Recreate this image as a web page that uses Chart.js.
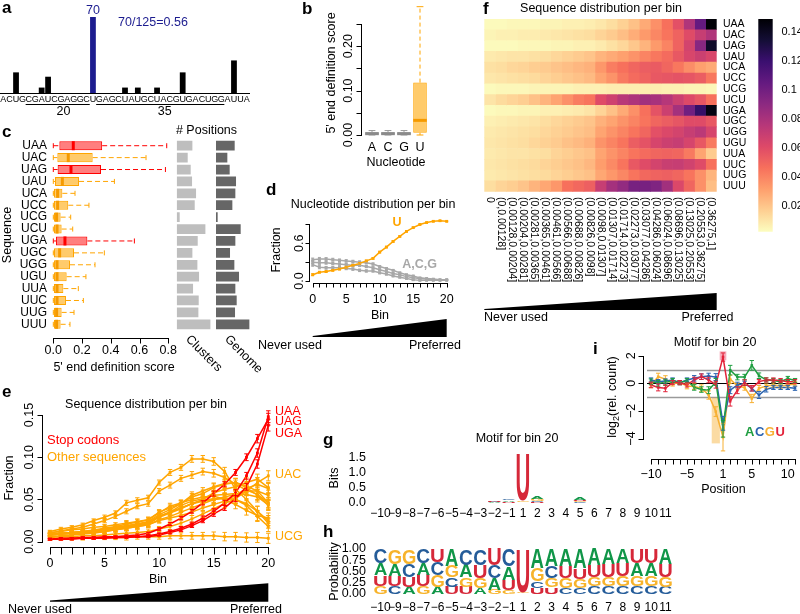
<!DOCTYPE html>
<html><head><meta charset="utf-8">
<script src="https://cdn.jsdelivr.net/npm/chart.js@4.4.1/dist/chart.umd.min.js"></script>
<style>
html,body{margin:0;padding:0;background:#fff;}
#wrap{position:relative;width:800px;height:614px;overflow:hidden;background:#fff;}
#wrap canvas{position:absolute;left:0;top:0;}
</style></head><body><div id="wrap"></div>
<script>
// ================= DATA =================
// panel a
const aSequence = ['A','C','U','G','C','G','A','U','C','G','A','G','G','C','U','G','A','G','C','U','A','U','G','C','U','A','C','G','U','G','A','C','U','G','G','A','U','U','A'];
const aCounts = [0,0,19,0,0,0,5,15,0,0,0,0,0,0,70,0,0,0,0,5,0,5,0,0,5,0,0,0,19,0,0,0,0,0,0,0,30,0,0];
const aHighlightIndex = 14;
const aUnderlineStart = [4, 15];
const aUnderlineEnd = [13, 34];
const aUnderlineLabels = ['20', '35'];
const aUnderlineLabelIndex = [9.4, 25.2];
const aAnnotation = '70/125=0.56';
// panel b
const bNucleotides = ['A','C','G','U'];
const bLo  = [0.000, 0.000, 0.000, 0.000];
const bQ1  = [0.0005, 0.0005, 0.0005, 0.005];
const bMed = [0.003, 0.003, 0.003, 0.033];
const bQ3  = [0.006, 0.006, 0.006, 0.118];
const bHi  = [0.010, 0.010, 0.010, 0.289];
const bYTicks = [0, 0.05, 0.10, 0.15, 0.20, 0.25];
const bYLabels = ['0.00', '', '0.10', '', '0.20', ''];
// panel c
const seqs = ['UAA','UAC','UAG','UAU','UCA','UCC','UCG','UCU','UGA','UGC','UGG','UGU','UUA','UUC','UUG','UUU'];
const stopCodons = ['UAA','UAG','UGA'];
const cLo  = [0,0,0,0,0,0,0,0,0,0,0,0,0,0,0,0];
const cQ1  = [0.042,0.028,0.030,0.012,0.005,0.005,0.005,0.005,0.019,0.005,0.005,0.005,0.005,0.005,0.005,0.005];
const cMed = [0.139,0.104,0.123,0.063,0.030,0.030,0.023,0.026,0.081,0.044,0.026,0.026,0.026,0.026,0.023,0.023];
const cQ3  = [0.340,0.274,0.332,0.179,0.063,0.104,0.051,0.058,0.237,0.144,0.116,0.093,0.070,0.088,0.058,0.051];
const cHi  = [0.789,0.645,0.780,0.425,0.151,0.248,0.121,0.135,0.564,0.355,0.290,0.227,0.174,0.209,0.144,0.116];
const cXTicks = [0, 0.2, 0.4, 0.6, 0.8];
const cXLabels = ['0.0','0.2','0.4','0.6','0.8'];
const cClusters = [47,33,42,46,58,54,9,86,63,47,62,67,49,66,65,101];
const cGenome   = [56,34,41,60,58,49,5,74,58,42,55,69,58,62,57,100];
// panel d
const dBins = [0,1,2,3,4,5,6,7,8,9,10,11,12,13,14,15,16,17,18,19,20];
const dFracU = [0.10,0.14,0.15,0.17,0.19,0.22,0.25,0.28,0.32,0.36,0.46,0.54,0.63,0.71,0.79,0.85,0.90,0.93,0.95,0.96,0.95];
const dFracA = [0.34,0.35,0.35,0.34,0.33,0.32,0.31,0.30,0.29,0.27,0.23,0.20,0.17,0.13,0.10,0.08,0.05,0.04,0.03,0.02,0.02];
const dFracC = [0.30,0.29,0.29,0.28,0.27,0.26,0.25,0.25,0.23,0.21,0.18,0.15,0.12,0.10,0.07,0.05,0.04,0.03,0.02,0.02,0.02];
const dFracG = [0.26,0.22,0.21,0.21,0.21,0.20,0.19,0.17,0.16,0.16,0.13,0.11,0.08,0.06,0.04,0.02,0.01,0.01,0.01,0.01,0.01];
const dErrU   = [0.015,0.012,0.012,0.012,0.012,0.012,0.012,0.012,0.012,0.012,0.012,0.012,0.012,0.010,0.010,0.010,0.008,0.008,0.006,0.006,0.006];
const dErrACG = [0.025,0.025,0.022,0.022,0.020,0.020,0.020,0.020,0.018,0.018,0.015,0.015,0.012,0.012,0.010,0.010,0.008,0.006,0.005,0.005,0.005];
const dYTicks = [0, 0.3, 0.6, 0.9];
const dYLabels = ['0.0', '', '0.6', ''];
const binLabels = ['0','','','','','5','','','','','10','','','','','15','','','','','20'];
// panel e / f : fraction of each sequence per bin
const fracUAA = [0.003,0.003,0.004,0.004,0.004,0.005,0.005,0.006,0.006,0.007,0.009,0.012,0.016,0.021,0.028,0.036,0.046,0.058,0.078,0.105,0.148];
const fracUAC = [0.005,0.006,0.006,0.007,0.007,0.008,0.009,0.010,0.011,0.012,0.015,0.018,0.022,0.027,0.033,0.039,0.045,0.051,0.060,0.070,0.078];
const fracUAG = [0.003,0.003,0.003,0.004,0.004,0.004,0.005,0.005,0.006,0.006,0.008,0.011,0.014,0.019,0.025,0.033,0.040,0.051,0.065,0.092,0.138];
const fracUAU = [0.008,0.009,0.010,0.010,0.011,0.012,0.014,0.016,0.018,0.020,0.025,0.028,0.031,0.035,0.040,0.044,0.048,0.055,0.063,0.068,0.063];
const fracUCA = [0.011,0.012,0.014,0.015,0.017,0.018,0.020,0.022,0.024,0.026,0.034,0.042,0.046,0.050,0.053,0.054,0.050,0.044,0.037,0.031,0.028];
const fracUCC = [0.009,0.010,0.011,0.012,0.013,0.015,0.017,0.019,0.021,0.023,0.030,0.035,0.043,0.048,0.051,0.055,0.056,0.057,0.056,0.053,0.044];
const fracUCG = [0.003,0.004,0.004,0.004,0.005,0.005,0.005,0.005,0.006,0.006,0.006,0.007,0.007,0.007,0.007,0.007,0.006,0.006,0.005,0.005,0.004];
const fracUCU = [0.010,0.013,0.015,0.017,0.021,0.025,0.030,0.036,0.042,0.045,0.060,0.067,0.075,0.079,0.083,0.081,0.076,0.068,0.061,0.056,0.046];
const fracUGA = [0.003,0.004,0.004,0.005,0.005,0.006,0.006,0.007,0.008,0.010,0.015,0.021,0.028,0.036,0.046,0.057,0.068,0.082,0.100,0.122,0.145];
const fracUGC = [0.006,0.007,0.008,0.009,0.010,0.012,0.014,0.016,0.018,0.020,0.026,0.030,0.035,0.040,0.045,0.050,0.053,0.056,0.060,0.060,0.055];
const fracUGG = [0.008,0.009,0.010,0.011,0.012,0.014,0.016,0.018,0.020,0.022,0.030,0.035,0.040,0.045,0.050,0.058,0.062,0.065,0.070,0.074,0.064];
const fracUGU = [0.009,0.010,0.011,0.012,0.014,0.016,0.018,0.021,0.023,0.026,0.035,0.040,0.045,0.053,0.057,0.064,0.068,0.070,0.064,0.055,0.043];
const fracUUA = [0.008,0.009,0.010,0.010,0.011,0.012,0.015,0.017,0.019,0.021,0.030,0.035,0.040,0.045,0.048,0.050,0.051,0.050,0.043,0.030,0.018];
const fracUUC = [0.009,0.010,0.011,0.012,0.013,0.015,0.017,0.019,0.021,0.024,0.032,0.038,0.045,0.055,0.060,0.065,0.069,0.070,0.066,0.060,0.046];
const fracUUG = [0.008,0.009,0.010,0.011,0.012,0.013,0.015,0.017,0.019,0.021,0.029,0.034,0.039,0.045,0.049,0.051,0.052,0.050,0.045,0.036,0.025];
const fracUUU = [0.012,0.015,0.017,0.020,0.025,0.029,0.034,0.046,0.049,0.052,0.070,0.082,0.088,0.098,0.098,0.095,0.083,0.062,0.050,0.036,0.022];
const errStop  = [0.001,0.001,0.001,0.001,0.001,0.001,0.001,0.001,0.001,0.0012,0.0015,0.0018,0.002,0.0022,0.0025,0.003,0.003,0.0035,0.004,0.005,0.007];
const errOther = [0.0015,0.002,0.002,0.002,0.002,0.0025,0.0025,0.003,0.003,0.003,0.003,0.0035,0.0035,0.004,0.004,0.0045,0.005,0.005,0.0055,0.006,0.006];
const eYTicks = [0, 0.05, 0.10, 0.15];
const eYLabels = ['0.00','0.05','0.10','0.15'];
const fBinLabels = ['0','(0,0.00128]','(0.00128,0.00204]','(0.00204,0.00281]','(0.00281,0.00365]','(0.00365,0.00461]','(0.00461,0.00566]','(0.00566,0.00688]','(0.00688,0.00826]','(0.00826,0.0098]','(0.0098,0.01307]','(0.01307,0.01714]','(0.01714,0.02273]','(0.02273,0.03077]','(0.03077,0.04286]','(0.04286,0.06024]','(0.06024,0.08696]','(0.08696,0.13025]','(0.13025,0.20553]','(0.20553,0.36275]','(0.36275,1]'];
const colorMin = 0.002, colorMax = 0.149;
const colorTicks = [0.02,0.04,0.06,0.08,0.10,0.12,0.14];
const colorTickLabels = ['0.02','0.04','0.06','0.08','0.1','0.12','0.14'];
// panels g / h : motif for bin 20
const logoPositions = ['\u221210','\u22129','\u22128','\u22127','\u22126','\u22125','\u22124','\u22123','\u22122','\u22121','1','2','3','4','5','6','7','8','9','10','11'];
const probA = [0.26,0.26,0.16,0.26,0.16,0.38,0.28,0.14,0.25,0.30,0.01,0.42,0.38,0.38,0.42,0.36,0.33,0.32,0.30,0.30,0.33];
const probC = [0.32,0.17,0.29,0.32,0.28,0.21,0.35,0.36,0.29,0.38,0.01,0.15,0.26,0.14,0.14,0.17,0.17,0.17,0.17,0.17,0.16];
const probG = [0.18,0.33,0.33,0.17,0.26,0.25,0.21,0.22,0.10,0.08,0.02,0.30,0.21,0.22,0.20,0.20,0.21,0.22,0.22,0.22,0.22];
const probU = [0.24,0.24,0.22,0.25,0.30,0.16,0.16,0.28,0.36,0.24,0.96,0.13,0.15,0.26,0.24,0.27,0.29,0.29,0.31,0.31,0.29];
const logoBits = [0.02,0.02,0.02,0.005,0.005,0.005,0.005,0.04,0.07,0.15,1.62,0.22,0.03,0.03,0.20,0.03,0.01,0.005,0.005,0.01,0.005];
const gYTicks = [0, 0.5, 1.0, 1.5];
const gYLabels = ['0.0','0.5','1.0','1.5'];
const hYTicks = [0, 0.25, 0.5, 0.75, 1.0];
const hYLabels = ['0.00','0.25','0.50','0.75','1.00'];
// panel i
const iLogA = [0.12,0.00,0.05,0.20,0.05,0.20,-0.30,-0.45,-0.50,0.10,-3.30,0.95,0.45,0.45,1.30,0.55,0.25,0.20,0.12,0.35,0.20];
const iLogC = [0.24,0.12,0.17,0.24,0.05,0.24,0.36,0.48,0.53,0.45,-2.90,-0.50,-0.12,0.00,-0.36,-0.85,-0.43,-0.30,-0.30,-0.30,-0.36];
const iLogG = [-0.12,0.48,0.30,-0.05,0.05,-0.20,-0.24,-0.36,-0.85,-2.05,-3.90,0.30,-0.20,-0.30,-1.10,-0.36,-0.20,-0.12,-0.20,-0.12,-0.05];
const iLogU = [-0.12,-0.30,-0.36,0.05,0.05,-0.12,0.24,0.48,0.24,-0.10,1.90,-1.30,-0.50,0.05,-0.36,0.12,0.24,0.24,0.20,0.12,0.12];
const iErrA = [0.20,0.20,0.20,0.15,0.15,0.15,0.20,0.20,0.25,0.25,0.60,0.35,0.20,0.20,0.35,0.20,0.15,0.15,0.15,0.15,0.15];
const iErrC = [0.15,0.15,0.15,0.15,0.15,0.15,0.20,0.20,0.20,0.25,0.50,0.25,0.20,0.15,0.20,0.25,0.20,0.15,0.15,0.15,0.15];
const iErrG = [0.20,0.25,0.25,0.15,0.15,0.20,0.20,0.25,0.30,0.35,1.00,0.30,0.20,0.20,0.30,0.20,0.15,0.15,0.15,0.15,0.15];
const iErrU = [0.20,0.25,0.25,0.15,0.15,0.15,0.20,0.20,0.20,0.25,0.30,0.35,0.25,0.20,0.20,0.15,0.15,0.15,0.15,0.15,0.15];
const iHighlightPos = [10, 9];
const iHighlightLo = [1.69, -4.33];
const iHighlightHi = [2.29, -1.07];
const iXLabels = ['\u221210','','','','','\u22125','','','','','1','','','','5','','','','','10',''];
const iYTicks = [-4, -2, 0, 2];
const iYLabels = ['\u22124', '\u22122', '0', '2'];

// ================= STYLE / HELPERS =================
const FONT = '"Liberation Sans", Arial, Helvetica, sans-serif';
const RED = '#ff0000', ORANGE = '#ffa500', BLUE = '#1c1c8f';
const NT = ['A','C','G','U'];
const NT_COL = {A:'#109648', C:'#255c99', G:'#f7b32b', U:'#d62839'};
const I_COL = {A:'#1f9e40', C:'#2a63b0', G:'#f7b032', U:'#e3233a'};
const magmaStops = ['#000004','#140e36','#3b0f70','#641a80','#8c2981','#b73779','#de4968','#f7705c','#fe9f6d','#fecf92','#fcfdbf'];
const fracRows = [fracUAA,fracUAC,fracUAG,fracUAU,fracUCA,fracUCC,fracUCG,fracUCU,fracUGA,fracUGC,fracUGG,fracUGU,fracUUA,fracUUC,fracUUG,fracUUU];
const probs = {A:probA, C:probC, G:probG, U:probU};

Chart.defaults.font.family = FONT;
Chart.defaults.animation = false;
Chart.defaults.plugins.legend.display = false;
Chart.defaults.plugins.tooltip.enabled = false;
Chart.defaults.events = [];

function h2r(h){ return [parseInt(h.slice(1,3),16), parseInt(h.slice(3,5),16), parseInt(h.slice(5,7),16)]; }
function magmaR(v){
  let t = (v - colorMin) / (colorMax - colorMin); t = Math.max(0, Math.min(1, t));
  const u = (1 - t) * 10, i = Math.min(9, Math.floor(u)), f = u - i;
  const a = h2r(magmaStops[i]), b = h2r(magmaStops[i+1]);
  return `rgb(${Math.round(a[0]+(b[0]-a[0])*f)},${Math.round(a[1]+(b[1]-a[1])*f)},${Math.round(a[2]+(b[2]-a[2])*f)})`;
}
function sn(v){ return Math.round(v) + 0.5; }
function txt(ctx, s, x, y, o = {}) {
  ctx.save();
  ctx.font = `${o.w || 'normal'} ${o.s || 12.5}px ${FONT}`;
  ctx.fillStyle = o.c || '#000';
  ctx.textAlign = o.a || 'center';
  ctx.textBaseline = o.b || 'middle';
  ctx.translate(x, y);
  if (o.r) ctx.rotate(o.r);
  ctx.fillText(s, 0, 0);
  ctx.restore();
}
function letter(ctx, s, x, y){ txt(ctx, s, x, y, {w:'bold', s:17, a:'left', b:'alphabetic'}); }
function seg(ctx, x1, y1, x2, y2, col = '#000', lw = 1, dash) {
  ctx.save(); ctx.strokeStyle = col; ctx.lineWidth = lw; if (dash) ctx.setLineDash(dash);
  ctx.beginPath(); ctx.moveTo(x1, y1); ctx.lineTo(x2, y2); ctx.stroke(); ctx.restore();
}
function wedge(ctx, x0, x1, yTip, yTop, yBot) {
  ctx.save(); ctx.fillStyle = '#000'; ctx.beginPath();
  ctx.moveTo(x0, yTip); ctx.lineTo(x1, yTop); ctx.lineTo(x1, yBot); ctx.lineTo(x0, yBot);
  ctx.closePath(); ctx.fill(); ctx.restore();
}
function axisX(ch, vals, labels, y, o = {}) {
  const sc = ch.scales[o.id || 'x'], ctx = ch.ctx;
  const px = vals.map(v => sc.getPixelForValue(v));
  const tl = o.tl ?? 5, yy = sn(y);
  ctx.save(); ctx.strokeStyle = '#000'; ctx.lineWidth = 1; ctx.beginPath();
  if (o.line !== false) { ctx.moveTo(sn(px[0]) - 0.5, yy); ctx.lineTo(sn(px[px.length-1]) + 0.5, yy); }
  if (tl) px.forEach(p => { ctx.moveTo(sn(p), yy); ctx.lineTo(sn(p), yy + tl); });
  ctx.stroke(); ctx.restore();
  labels.forEach((l, i) => { if (l) txt(ctx, l, px[i], o.ly, {s: o.fs}); });
}
function axisY(ch, vals, labels, x, o = {}) {
  const sc = ch.scales[o.id || 'y'], ctx = ch.ctx;
  const px = vals.map(v => sc.getPixelForValue(v));
  const tl = o.tl ?? 5, xx = sn(x);
  ctx.save(); ctx.strokeStyle = '#000'; ctx.lineWidth = 1; ctx.beginPath();
  if (o.line !== false) { ctx.moveTo(xx, sn(Math.min(...px)) - 0.5); ctx.lineTo(xx, sn(Math.max(...px)) + 0.5); }
  if (tl) px.forEach(p => { ctx.moveTo(xx, sn(p)); ctx.lineTo(xx - tl, sn(p)); });
  ctx.stroke(); ctx.restore();
  labels.forEach((l, i) => {
    if (!l) return;
    if (o.rot === false) txt(ctx, l, o.lx, px[i], {s: o.fs, a: 'right'});
    else txt(ctx, l, o.lx, px[i], {s: o.fs, r: -Math.PI / 2});
  });
}
function glyph(ctx, ch, x0, x1, yTop, yBot, color) {
  const h = yBot - yTop; if (h < 0.35) return;
  ctx.save();
  ctx.font = `bold 100px ${FONT}`;
  const m = ctx.measureText(ch);
  const gw = m.actualBoundingBoxLeft + m.actualBoundingBoxRight;
  const gh = m.actualBoundingBoxAscent + m.actualBoundingBoxDescent;
  ctx.translate(x0, yTop);
  ctx.scale((x1 - x0) / gw, h / gh);
  ctx.fillStyle = color; ctx.textAlign = 'left'; ctx.textBaseline = 'alphabetic';
  ctx.fillText(ch, m.actualBoundingBoxLeft, m.actualBoundingBoxAscent);
  ctx.restore();
}
// error bars for line datasets carrying an `errors` array
Chart.register({ id: 'errbars', afterDatasetsDraw(chart) {
  const ctx = chart.ctx;
  for (let di = chart.data.datasets.length - 1; di >= 0; di--) {
    const ds = chart.data.datasets[di]; if (!ds.errors) continue;
    const meta = chart.getDatasetMeta(di), ys = chart.scales[meta.yAxisID];
    const cw = ds.capW || 2;
    ctx.save(); ctx.strokeStyle = ds.borderColor; ctx.lineWidth = ds.errW || 1; ctx.beginPath();
    meta.data.forEach((pt, k) => {
      const v = ds.data[k].y, e = ds.errors[k];
      const y1 = ys.getPixelForValue(v - e), y2 = ys.getPixelForValue(v + e);
      ctx.moveTo(pt.x, y1); ctx.lineTo(pt.x, y2);
      ctx.moveTo(pt.x - cw, y1); ctx.lineTo(pt.x + cw, y1);
      ctx.moveTo(pt.x - cw, y2); ctx.lineTo(pt.x + cw, y2);
    });
    ctx.stroke(); ctx.restore();
  }
}});
function mk(area, cfg) {
  const cv = document.createElement('canvas');
  cv.width = 800; cv.height = 614;
  document.getElementById('wrap').appendChild(cv);
  cfg.options = cfg.options || {};
  cfg.options.responsive = false;
  cfg.options.animation = false;
  cfg.options.layout = { padding: { left: area[0], top: area[1], right: 800 - area[2], bottom: 614 - area[3] } };
  return new Chart(cv.getContext('2d'), cfg);
}
function lineDS(xs, ys, color, errs, o = {}) {
  return Object.assign({
    data: xs.map((x, i) => ({x, y: ys[i]})), borderColor: color, backgroundColor: color,
    borderWidth: 1.5, pointRadius: 2, pointStyle: 'rect', pointBorderWidth: 0, pointBackgroundColor: color,
    tension: 0, fill: false, clip: false, errors: errs
  }, o);
}

// ================= PANEL a =================
mk([0, 17, 250, 93], {
  type: 'bar',
  data: { labels: aSequence, datasets: [{ data: aCounts,
    backgroundColor: aCounts.map((v, i) => i === aHighlightIndex ? BLUE : '#000'),
    borderWidth: 0, barPercentage: 0.9, categoryPercentage: 1 }] },
  options: { scales: { x: { display: false }, y: { display: false, min: 0, max: 70 } } },
  plugins: [{ id: 'pa', afterDraw(ch) {
    const ctx = ch.ctx, xs = ch.scales.x, ys = ch.scales.y;
    const x0 = xs.getPixelForValue(0), w = xs.getPixelForValue(1) - x0;
    const by = sn(ys.getPixelForValue(0));
    seg(ctx, 0, by, 250, by);
    aSequence.forEach((l, i) => txt(ctx, l, xs.getPixelForValue(i), 99.5, {s: 9}));
    aUnderlineStart.forEach((s, k) => {
      const x1 = xs.getPixelForValue(s) - w / 2, x2 = xs.getPixelForValue(aUnderlineEnd[k]) + w / 2;
      seg(ctx, x1, 104.5, x2, 104.5);
      txt(ctx, aUnderlineLabels[k], x0 + aUnderlineLabelIndex[k] * w, 112, {s: 12.5});
    });
    const hx = xs.getPixelForValue(aHighlightIndex), hy = ys.getPixelForValue(aCounts[aHighlightIndex]);
    txt(ctx, String(aCounts[aHighlightIndex]), hx, hy - 6.5, {s: 12.5, c: BLUE});
    txt(ctx, aAnnotation, 118, 22.5, {s: 12.5, c: BLUE, a: 'left'});
    letter(ctx, 'a', 2, 13);
  }}]
});

// ================= PANEL b =================
mk([364, 24, 428, 135], {
  type: 'bar',
  data: { labels: bNucleotides, datasets: [{
    data: bNucleotides.map((n, i) => [bQ1[i], bQ3[i]]),
    backgroundColor: bNucleotides.map(n => n === 'U' ? 'rgba(255,165,0,0.58)' : '#c4c4c4'),
    borderColor: bNucleotides.map(n => n === 'U' ? ORANGE : '#9a9a9a'),
    borderWidth: 1, borderSkipped: false, barPercentage: 0.85, categoryPercentage: 1, clip: false }] },
  options: { scales: { x: { display: false }, y: { display: false, min: 0, max: 0.25 } } },
  plugins: [{ id: 'pb', afterDatasetsDraw(ch) {
    const ctx = ch.ctx, ys = ch.scales.y, meta = ch.getDatasetMeta(0);
    bNucleotides.forEach((n, i) => {
      const el = meta.data[i], x = el.x, hw = el.width / 2;
      const col = n === 'U' ? ORANGE : '#9a9a9a';
      const yq3 = ys.getPixelForValue(bQ3[i]), yhi = ys.getPixelForValue(bHi[i]);
      const yq1 = ys.getPixelForValue(bQ1[i]), ylo = ys.getPixelForValue(bLo[i]);
      seg(ctx, x, yq3, x, yhi, col, 1, [4, 3]);
      seg(ctx, x, yq1, x, ylo, col, 1, [4, 3]);
      seg(ctx, x - hw / 2, yhi, x + hw / 2, yhi, col, 1);
      seg(ctx, x - hw / 2, ylo, x + hw / 2, ylo, col, 1);
      const ym = ys.getPixelForValue(bMed[i]);
      seg(ctx, x - hw, ym, x + hw, ym, n === 'U' ? '#f59a00' : '#8a8a8a', 3);
    });
  }, afterDraw(ch) {
    const ctx = ch.ctx, xs = ch.scales.x;
    axisY(ch, bYTicks, bYLabels, 361, {lx: 349, tl: 5});
    txt(ctx, "5' end definition score", 332, 73, {r: -Math.PI / 2});
    bNucleotides.forEach((n, i) => txt(ctx, n, xs.getPixelForValue(i), 148));
    txt(ctx, 'Nucleotide', 396, 163);
    letter(ctx, 'b', 302, 13.5);
  }}]
});

// ================= PANEL c =================
const cArea = [139.75, 330.25];
mk([53.3, cArea[0], 168.3, cArea[1]], {
  type: 'bar',
  data: { labels: seqs, datasets: [{
    data: seqs.map((s, i) => [cQ1[i], cQ3[i]]),
    backgroundColor: seqs.map(s => stopCodons.includes(s) ? 'rgba(255,0,0,0.5)' : 'rgba(255,165,0,0.58)'),
    borderColor: seqs.map(s => stopCodons.includes(s) ? RED : ORANGE),
    borderWidth: 1, borderSkipped: false, barPercentage: 0.76, categoryPercentage: 1, clip: false }] },
  options: { indexAxis: 'y', scales: { x: { display: false, min: 0, max: 0.8 }, y: { display: false } } },
  plugins: [{ id: 'pc', afterDatasetsDraw(ch) {
    const ctx = ch.ctx, xs = ch.scales.x, meta = ch.getDatasetMeta(0);
    seqs.forEach((s, i) => {
      const el = meta.data[i], y = el.y, hh = el.height / 2;
      const col = stopCodons.includes(s) ? RED : ORANGE;
      const xq3 = xs.getPixelForValue(cQ3[i]), xhi = xs.getPixelForValue(cHi[i]);
      const xq1 = xs.getPixelForValue(cQ1[i]), xlo = xs.getPixelForValue(cLo[i]);
      seg(ctx, xq3, y, xhi, y, col, 1, [5, 3]);
      seg(ctx, xlo, y, xq1, y, col, 1, [5, 3]);
      seg(ctx, xhi, y - 2.5, xhi, y + 2.5, col, 1);
      seg(ctx, xlo, y - 2.5, xlo, y + 2.5, col, 1);
      const xm = xs.getPixelForValue(cMed[i]);
      seg(ctx, xm, y - hh, xm, y + hh, stopCodons.includes(s) ? RED : '#f59a00', 3);
    });
  }, afterDraw(ch) {
    const ctx = ch.ctx, ys = ch.scales.y;
    seqs.forEach((s, i) => txt(ctx, s, 47, ys.getPixelForValue(i), {s: 12, a: 'right'}));
    axisX(ch, cXTicks, cXLabels, 338, {ly: 350.5, tl: 5});
    txt(ctx, "5' end definition score", 114, 368);
    txt(ctx, 'Sequence', 8, 235, {r: -Math.PI / 2});
    txt(ctx, '# Positions', 206.5, 131);
    letter(ctx, 'c', 2, 137);
  }}]
});
mk([176.7, cArea[0], 213.4, cArea[1]], {
  type: 'bar',
  data: { labels: seqs, datasets: [{ data: cClusters, backgroundColor: '#bebebe', borderWidth: 0, barPercentage: 0.82, categoryPercentage: 1 }] },
  options: { indexAxis: 'y', scales: { x: { display: false, min: 0, max: 110 }, y: { display: false } } },
  plugins: [{ id: 'pc2', afterDraw(ch) { txt(ch.ctx, 'Clusters', 192, 333, {a: 'left', b: 'top', r: Math.PI / 4}); } }]
});
mk([216, cArea[0], 252.7, cArea[1]], {
  type: 'bar',
  data: { labels: seqs, datasets: [{ data: cGenome, backgroundColor: '#666666', borderWidth: 0, barPercentage: 0.82, categoryPercentage: 1 }] },
  options: { indexAxis: 'y', scales: { x: { display: false, min: 0, max: 110 }, y: { display: false } } },
  plugins: [{ id: 'pc3', afterDraw(ch) { txt(ch.ctx, 'Genome', 231, 333, {a: 'left', b: 'top', r: Math.PI / 4}); } }]
});

// ================= PANEL d =================
mk([312.7, 218.2, 446.7, 281], {
  type: 'line',
  data: { datasets: [
    lineDS(dBins, dFracU, ORANGE, dErrU, {capW: 1.5}),
    lineDS(dBins, dFracA, '#a8a8a8', dErrACG, {capW: 1.5}),
    lineDS(dBins, dFracC, '#a8a8a8', dErrACG, {capW: 1.5}),
    lineDS(dBins, dFracG, '#a8a8a8', dErrACG, {capW: 1.5})
  ] },
  options: { scales: { x: { type: 'linear', display: false, min: 0, max: 20 }, y: { display: false, min: 0, max: 1 } } },
  plugins: [{ id: 'pd', afterDraw(ch) {
    const ctx = ch.ctx, xs = ch.scales.x;
    axisY(ch, dYTicks, dYLabels, 309.3, {lx: 300, tl: 4});
    axisX(ch, dBins, binLabels, 283.3, {ly: 300, tl: 4});
    txt(ctx, 'Fraction', 276.7, 250, {r: -Math.PI / 2});
    txt(ctx, 'Bin', 380, 316);
    txt(ctx, 'Nucleotide distribution per bin', 373, 205);
    txt(ctx, 'U', 397, 222.5, {w: 'bold', c: ORANGE});
    txt(ctx, 'A,C,G', 419.5, 265, {w: 'bold', c: '#a8a8a8'});
    wedge(ctx, xs.getPixelForValue(0), xs.getPixelForValue(20), 336, 319, 337);
    txt(ctx, 'Never used', 258, 345.5, {a: 'left'});
    txt(ctx, 'Preferred', 461, 345.5, {a: 'right'});
    letter(ctx, 'd', 266, 195);
  }}]
});

// ================= PANEL e =================
const eOrder = [...stopCodons, ...seqs.filter(s => !stopCodons.includes(s))];
mk([50, 415, 268.3, 541.7], {
  type: 'line',
  data: { datasets: eOrder.map(s => {
    const stop = stopCodons.includes(s);
    return lineDS(dBins, fracRows[seqs.indexOf(s)], stop ? RED : ORANGE, stop ? errStop : errOther, {capW: 2.2, label: s});
  }) },
  options: { scales: { x: { type: 'linear', display: false, min: 0, max: 20 }, y: { display: false, min: 0, max: 0.15 } } },
  plugins: [{ id: 'pe', afterDraw(ch) {
    const ctx = ch.ctx, xs = ch.scales.x;
    axisY(ch, eYTicks, eYLabels, 41.7, {lx: 29.5, tl: 5});
    axisX(ch, dBins, binLabels, 546.7, {ly: 564, tl: 7});
    txt(ctx, 'Fraction', 10, 478, {r: -Math.PI / 2});
    txt(ctx, 'Bin', 158, 579.5);
    txt(ctx, 'Sequence distribution per bin', 146, 405);
    txt(ctx, 'Stop codons', 47, 440, {a: 'left', s: 13, c: RED});
    txt(ctx, 'Other sequences', 47, 457, {a: 'left', s: 13, c: ORANGE});
    txt(ctx, 'UAA', 275, 412, {a: 'left', c: RED});
    txt(ctx, 'UAG', 275, 422, {a: 'left', c: RED});
    txt(ctx, 'UGA', 275, 433.3, {a: 'left', c: RED});
    txt(ctx, 'UAC', 275, 475, {a: 'left', c: ORANGE});
    txt(ctx, 'UCG', 275, 536.7, {a: 'left', c: ORANGE});
    wedge(ctx, xs.getPixelForValue(0), xs.getPixelForValue(20), 600.5, 583.3, 601.7);
    txt(ctx, 'Never used', 8, 610, {a: 'left'});
    txt(ctx, 'Preferred', 282, 610, {a: 'right'});
    letter(ctx, 'e', 2, 397);
  }}]
});

// ================= PANEL f =================
mk([484.3, 19, 716.7, 191.7], {
  type: 'bar',
  data: { labels: seqs, datasets: fBinLabels.map((b, j) => ({
    label: b, data: seqs.map(() => 1), backgroundColor: fracRows.map(r => magmaR(r[j])),
    borderWidth: 0, barPercentage: 1, categoryPercentage: 1 })) },
  options: { indexAxis: 'y', scales: { x: { display: false, stacked: true, min: 0, max: fBinLabels.length }, y: { display: false, stacked: true } } },
  plugins: [{ id: 'pf', afterDraw(ch) {
    const ctx = ch.ctx, xs = ch.scales.x, ys = ch.scales.y;
    seqs.forEach((s, i) => txt(ctx, s, 723, ys.getPixelForValue(i), {s: 10.5, a: 'left'}));
    fBinLabels.forEach((l, j) => txt(ctx, l, xs.getPixelForValue(j + 0.5), 197, {s: 10.5, a: 'left', r: Math.PI / 2}));
    txt(ctx, 'Sequence distribution per bin', 601, 8.5);
    wedge(ctx, xs.getPixelForValue(0), xs.getPixelForValue(fBinLabels.length), 309, 293, 310);
    txt(ctx, 'Never used', 484, 318, {a: 'left'});
    txt(ctx, 'Preferred', 707.5, 318);
    letter(ctx, 'f', 483, 13.5);
  }}]
});
mk([758.3, 19, 772.7, 231.7], {
  type: 'bar',
  data: { labels: ['scale'], datasets: [{ data: [[colorMin, colorMax]], borderWidth: 0, barPercentage: 1, categoryPercentage: 1,
    backgroundColor: (c) => {
      const ca = c.chart.chartArea; if (!ca) return '#000';
      const g = c.chart.ctx.createLinearGradient(0, ca.bottom, 0, ca.top);
      for (let k = 0; k <= 10; k++) g.addColorStop(k / 10, magmaR(colorMin + k / 10 * (colorMax - colorMin)));
      return g;
    } }] },
  options: { scales: { x: { display: false }, y: { display: false, min: colorMin, max: colorMax } } },
  plugins: [{ id: 'pcb', afterDraw(ch) {
    colorTicks.forEach((v, i) => txt(ch.ctx, colorTickLabels[i], 781.5, ch.scales.y.getPixelForValue(v), {s: 11, a: 'left'}));
  }}]
});

// ================= PANELS g, h (sequence logos) =================
function logoDatasets(heightOf) {
  const sorted = logoPositions.map((p, i) => NT.map(n => ({n, v: heightOf(n, i)})).sort((a, b) => a.v - b.v));
  return [0, 1, 2, 3].map(r => ({
    data: sorted.map((col, i) => ({x: i, y: col[r].v})), letters: sorted.map(col => col[r].n),
    backgroundColor: 'rgba(0,0,0,0)', borderWidth: 0, barPercentage: 0.88, categoryPercentage: 1, stack: 's'
  }));
}
const logoGlyphPlugin = { id: 'logo', afterDatasetsDraw(ch) {
  ch.data.datasets.forEach((ds, di) => {
    ch.getDatasetMeta(di).data.forEach((el, i) => {
      glyph(ch.ctx, ds.letters[i], el.x - el.width / 2, el.x + el.width / 2, Math.min(el.y, el.base), Math.max(el.y, el.base), NT_COL[ds.letters[i]]);
    });
  });
}};
mk([373.4, 452, 672.6, 503], {
  type: 'bar',
  data: { datasets: logoDatasets((n, i) => probs[n][i] * logoBits[i]) },
  options: { scales: { x: { type: 'linear', display: false, min: -0.5, max: 20.5, offset: false, stacked: true }, y: { display: false, min: 0, max: 1.7, stacked: true } } },
  plugins: [logoGlyphPlugin, { id: 'pg', afterDraw(ch) {
    const ctx = ch.ctx, xs = ch.scales.x, ys = ch.scales.y;
    gYTicks.forEach((v, i) => txt(ctx, gYLabels[i], 366, ys.getPixelForValue(v), {a: 'right'}));
    logoPositions.forEach((p, i) => txt(ctx, p, xs.getPixelForValue(i), 514, {s: 12}));
    txt(ctx, 'Bits', 335, 478, {r: -Math.PI / 2});
    txt(ctx, 'Motif for bin 20', 517, 439);
    letter(ctx, 'g', 323, 445);
  }}]
});
mk([373.4, 549, 672.6, 594], {
  type: 'bar',
  data: { datasets: logoDatasets((n, i) => probs[n][i]) },
  options: { scales: { x: { type: 'linear', display: false, min: -0.5, max: 20.5, offset: false, stacked: true }, y: { display: false, min: 0, max: 1, stacked: true } } },
  plugins: [logoGlyphPlugin, { id: 'ph', afterDraw(ch) {
    const ctx = ch.ctx, xs = ch.scales.x, ys = ch.scales.y;
    hYTicks.forEach((v, i) => txt(ctx, hYLabels[i], 366, ys.getPixelForValue(v), {a: 'right'}));
    logoPositions.forEach((p, i) => txt(ctx, p, xs.getPixelForValue(i), 608, {s: 12}));
    txt(ctx, 'Probability', 335, 571.5, {r: -Math.PI / 2});
    letter(ctx, 'h', 323, 537);
  }}]
});

// ================= PANEL i =================
const iIdx = logoPositions.map((p, i) => i);
mk([651, 348.8, 795, 452.3], {
  type: 'line',
  data: { datasets: [
    lineDS(iIdx, iLogU, I_COL.U, iErrU, {capW: 2.2, pointRadius: 1.8}),
    lineDS(iIdx, iLogA, I_COL.A, iErrA, {capW: 2.2, pointRadius: 1.8}),
    lineDS(iIdx, iLogC, I_COL.C, iErrC, {capW: 2.2, pointRadius: 1.8}),
    lineDS(iIdx, iLogG, I_COL.G, iErrG, {capW: 2.2, pointRadius: 1.8}),
    { type: 'bar', data: [{x: iHighlightPos[0], y: [iHighlightLo[0], iHighlightHi[0]]}], backgroundColor: 'rgba(232,60,95,0.42)', barThickness: 6, grouped: false, borderWidth: 0, clip: false },
    { type: 'bar', data: [{x: iHighlightPos[1], y: [iHighlightLo[1], iHighlightHi[1]]}], backgroundColor: 'rgba(247,176,50,0.45)', barThickness: 7.5, grouped: false, borderWidth: 0, clip: false }
  ] },
  options: { scales: { x: { type: 'linear', display: false, min: 0, max: 20, offset: false }, y: { display: false, min: -5, max: 2.5 } } },
  plugins: [{ id: 'pi', beforeDatasetsDraw(ch) {
    const ctx = ch.ctx, ys = ch.scales.y;
    [1, -1].forEach(v => seg(ctx, 647, sn(ys.getPixelForValue(v)), 800, sn(ys.getPixelForValue(v)), '#9a9a9a', 1.5));
    seg(ctx, 647, sn(ys.getPixelForValue(0)), 800, sn(ys.getPixelForValue(0)), '#000', 1);
  }, afterDraw(ch) {
    const ctx = ch.ctx;
    axisY(ch, iYTicks, iYLabels, 643.3, {lx: 632, tl: 5});
    axisX(ch, iIdx, iXLabels, 459.3, {ly: 475, tl: 5});
    txt(ctx, 'Position', 723.5, 490);
    txt(ctx, 'Motif for bin 20', 715, 343);
    // y title with subscript
    ctx.save(); ctx.translate(613, 397); ctx.rotate(-Math.PI / 2); ctx.fillStyle = '#000'; ctx.textBaseline = 'middle'; ctx.textAlign = 'left';
    const f1 = `12.5px ${FONT}`, f2 = `9px ${FONT}`;
    ctx.font = f1; const w1 = ctx.measureText('log').width, w3 = ctx.measureText('(rel. count)').width;
    ctx.font = f2; const w2 = ctx.measureText('2').width;
    let x = -(w1 + w2 + w3) / 2;
    ctx.font = f1; ctx.fillText('log', x, 0); x += w1;
    ctx.font = f2; ctx.fillText('2', x, 3.5); x += w2;
    ctx.font = f1; ctx.fillText('(rel. count)', x, 0);
    ctx.restore();
    // colour key
    ctx.save(); ctx.font = `bold 13px ${FONT}`; ctx.textBaseline = 'middle'; ctx.textAlign = 'left';
    let kx = 745;
    NT.forEach(n => { ctx.fillStyle = I_COL[n]; ctx.fillText(n, kx, 432); kx += ctx.measureText(n).width + 0.5; });
    ctx.restore();
    letter(ctx, 'i', 593, 354);
  }}]
});
</script></body></html>
